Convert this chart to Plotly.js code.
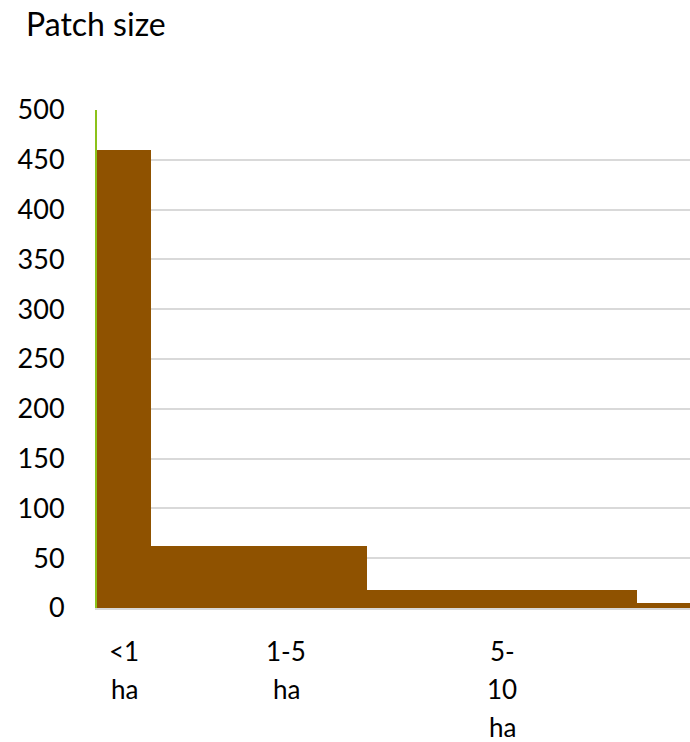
<!DOCTYPE html>
<html>
<head>
<meta charset="utf-8">
<script src="https://cdn.plot.ly/plotly-3.0.1.min.js"></script>
<style>
  html, body { margin: 0; padding: 0; background: #fff; overflow: hidden; }
  #chart { width: 690px; height: 742px; }
</style>
</head>
<body>
<div id="chart"></div>
<script>
// Patch size classes (ha): bin edges, patch counts and wrapped class labels
const binEdges = [0, 1, 5, 10, 20];
const patchCounts = [460, 62, 18, 5];
const classLabels = ["<1\nha", "1-5\nha", "5-\n10\nha"];
const labelAt = [0.5, 3.5, 7.5];

const centers = patchCounts.map((_, i) => (binEdges[i] + binEdges[i + 1]) / 2);
const widths = patchCounts.map((_, i) => binEdges[i + 1] - binEdges[i]);

const FONT = "Lato, 'Open Sans', sans-serif";

const escapeText = s => s.replace(/&/g, "&amp;").replace(/</g, "&lt;").replace(/>/g, "&gt;");

// one annotation per text line, stacked under the axis
const annotations = [];
classLabels.forEach((lbl, i) => {
  lbl.split("\n").forEach((line, j) => {
    annotations.push({
      text: escapeText(line),
      x: labelAt[i], xref: "x",
      y: 0, yref: "paper",
      xanchor: "center", yanchor: "middle",
      yshift: -43 - j * 38,
      showarrow: false,
      font: { family: FONT, size: 26, color: "#000" }
    });
  });
});

const trace = {
  type: "bar",
  x: centers,
  y: patchCounts,
  width: widths,
  marker: { color: "#8F5200", line: { width: 0 } },
  hoverinfo: "skip"
};

const layout = {
  width: 690,
  height: 742,
  margin: { l: 97, r: 0, t: 110, b: 134, pad: 0 },
  paper_bgcolor: "#fff",
  plot_bgcolor: "#fff",
  showlegend: false,
  bargap: 0,
  font: { family: FONT, size: 26, color: "#000" },
  title: {
    text: "Patch size",
    font: { family: FONT, size: 32, color: "#000" },
    xref: "container", x: 26 / 690, xanchor: "left",
    yref: "container", y: 1 - 25 / 742, yanchor: "middle"
  },
  xaxis: {
    range: [0, (690 - 97) / 54],
    showticklabels: false,
    showgrid: false,
    zeroline: false,
    ticks: "",
    showline: true,
    linecolor: "#d9d9d9",
    linewidth: 2,
    fixedrange: true
  },
  yaxis: {
    range: [0, 500],
    dtick: 50,
    tick0: 0,
    showgrid: true,
    gridcolor: "#d9d9d9",
    gridwidth: 2,
    zeroline: false,
    showline: true,
    linecolor: "#8CC21A",
    linewidth: 2,
    ticks: "",
    ticklabelstandoff: 25,
    tickfont: { family: FONT, size: 27, color: "#000" },
    fixedrange: true
  },
  annotations: annotations
};

Plotly.newPlot("chart", [trace], layout, { staticPlot: true, displayModeBar: false });
</script>
</body>
</html>
